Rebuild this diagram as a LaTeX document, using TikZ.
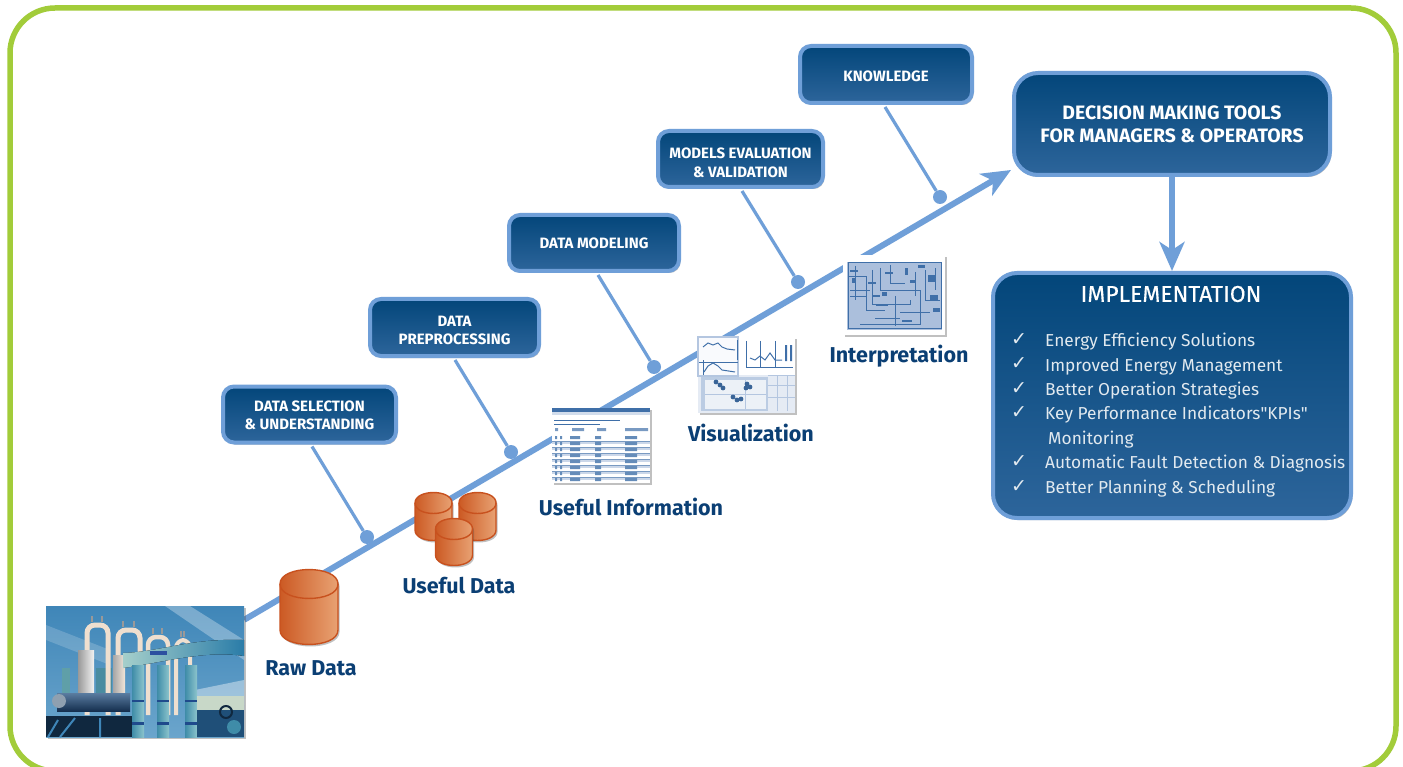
\documentclass[tikz,border=0pt]{standalone}
\usepackage{fontspec}
\setmainfont{Fira Sans}
\newfontfamily\chk{DejaVu Sans}
\newfontfamily\titlefont[FakeBold=0.35]{Fira Sans}
\newfontfamily\plainq{Fira Sans}
\usetikzlibrary{arrows.meta,shadows}
\definecolor{linkblue}{HTML}{6F9FD8}
\definecolor{boxtop}{HTML}{03467A}
\definecolor{boxbot}{HTML}{2D659B}
\definecolor{labelblue}{HTML}{0B3F74}
\definecolor{framegreen}{HTML}{A2CC3A}
\definecolor{cyldark}{HTML}{CC5A24}
\definecolor{cyllight}{HTML}{E8A273}
\definecolor{cylline}{HTML}{C8511E}
\definecolor{thumb}{HTML}{3F6FA8}
\definecolor{thumbbg}{HTML}{B4C6E0}
\definecolor{skyA}{HTML}{3F86B8}
\definecolor{skyB}{HTML}{6BA5CC}
\definecolor{tealA}{HTML}{5F9FA8}
\definecolor{tealB}{HTML}{4A8CA0}
\definecolor{tealC}{HTML}{A5CFCB}
\definecolor{pipeD}{HTML}{2A7CA8}
\definecolor{strapB}{HTML}{2C50A0}
\definecolor{colA}{HTML}{3F8CA8}
\definecolor{colB}{HTML}{8CC4CC}
\definecolor{strapC}{HTML}{1F4A8C}
\definecolor{eqA}{HTML}{5A7CA0}
\definecolor{eqB}{HTML}{15304F}
\definecolor{hubC}{HTML}{8FA0B0}
\definecolor{nightC}{HTML}{10283F}
\definecolor{paleC}{HTML}{C8D8C8}
\definecolor{deepC}{HTML}{1F4F78}
\tikzset{
  softshadow/.style={drop shadow={shadow xshift=1.5pt,shadow yshift=-2pt,opacity=.35,fill=black!70}},
  flowbox/.style={draw=linkblue,line width=4pt,rounded corners=11pt,top color=boxtop,bottom color=boxbot,
    softshadow,text=white,align=center,font=\bfseries\fontsize{15}{18.5}\selectfont,inner sep=0pt},
  bigbox/.style={flowbox,rounded corners=24pt},
  stem/.style={draw=linkblue,line width=3.2pt},
  dotnode/.style={circle,fill=linkblue,minimum size=14pt,inner sep=0pt},
  mainline/.style={draw=linkblue,line width=6pt},
  bigarrow/.style={mainline,-{Stealth[length=29pt,width=25pt,inset=8pt]}},
  caption/.style={text=labelblue,font=\bfseries\fontsize{21.5}{24}\selectfont,inner sep=0pt},
  listtext/.style={text=white!88!boxtop,font=\fontsize{17.3}{20}\selectfont,anchor=base west,inner sep=0pt},
  tick/.style={text=white!88!boxtop,font=\chk\fontsize{19}{20}\selectfont,anchor=base west,inner sep=0pt},
  cylfill/.style={left color=cyldark,right color=cyllight,draw=cylline,line width=1.4pt},
  thumbline/.style={draw=thumb,line width=.7pt}
}
\newcommand{\tx}[2]{\raisebox{-#1pt}[\height][\depth]{#2}}
\newcommand{\cylinder}[5]{% cx, top y, rx, ry, height
  \path[cylfill,softshadow] (#1-#3,#2) -- (#1-#3,#2+#5)
     .. controls (#1-#3,#2+#5+1.33*#4) and (#1+#3,#2+#5+1.33*#4) .. (#1+#3,#2+#5)
     -- (#1+#3,#2)
     .. controls (#1+#3,#2-1.33*#4) and (#1-#3,#2-1.33*#4) .. cycle;
  \draw[cylline,line width=1.4pt] (#1-#3,#2) .. controls (#1-#3,#2+1.33*#4) and (#1+#3,#2+1.33*#4) .. (#1+#3,#2);
}
\begin{document}
\begin{tikzpicture}[x=1pt,y=-1pt]
\useasboundingbox (0,0) rectangle (1403,767);
\clip (0,0) rectangle (1403,767);
\fill[white] (0,0) rectangle (1403,767);
\draw[framegreen,line width=5.5pt,rounded corners=45pt] (10,8) rectangle (1396,771);

% ---- named anchors of the main flow
\node[minimum width=198pt,minimum height=131pt,inner sep=0pt] (photo) at (145,671.5) {};
\node[bigbox,minimum width=316pt,minimum height=102pt,font=\bfseries\fontsize{19.4}{23}\selectfont] (decision) at (1172,124)
  {\tx{0}{DECISION MAKING TOOLS}\\\tx{0}{FOR MANAGERS \& OPERATORS}};

% ---- main line
\coordinate (linestart) at ([yshift=-14pt]photo.north east);
\coordinate (linetip) at ([xshift=-1pt,yshift=7pt]decision.south west);
\draw[bigarrow] (linestart) -- (linetip);

% ---- stem boxes
\node[flowbox,minimum width=173pt,minimum height=56pt] (ds) at (309.5,414.5) {\tx{1}{DATA SELECTION}\\\tx{1}{\& UNDERSTANDING}};
\node[flowbox,minimum width=169pt,minimum height=57pt] (dp) at (454.5,327.5) {\tx{3}{DATA}\\\tx{3}{PREPROCESSING}};
\node[flowbox,minimum width=170pt,minimum height=56pt] (dm) at (594,243) {\tx{0}{DATA MODELING}};
\node[flowbox,minimum width=165pt,minimum height=56pt] (me) at (740.5,159) {\tx{4}{MODELS EVALUATION}\\\tx{4}{\& VALIDATION}};
\node[flowbox,minimum width=172pt,minimum height=57pt] (kn) at (886,74.5) {\tx{2}{KNOWLEDGE}};

\node[dotnode] (d1) at (367,537) {};
\node[dotnode] (d2) at (511,452) {};
\node[dotnode] (d3) at (654,367) {};
\node[dotnode] (d4) at (798,282) {};
\node[dotnode] (d5) at (940,197) {};
\draw[stem] ([xshift=2.5pt,yshift=-2pt]ds.south) -- (d1);
\draw[stem] ([xshift=.5pt,yshift=-2pt]dp.south) -- (d2);
\draw[stem] ([xshift=4pt,yshift=-2pt]dm.south) -- (d3);
\draw[stem] ([xshift=1.5pt,yshift=-2pt]me.south) -- (d4);
\draw[stem] ([xshift=-1pt,yshift=-2pt]kn.south) -- (d5);

% ---- implementation
\node[bigbox,minimum width=358pt,minimum height=245pt] (impl) at (1172,395.5) {};
\draw[bigarrow] (decision.south) -- (impl.north);
\node[text=white,font=\titlefont\fontsize{23}{26}\selectfont,inner sep=0pt] (impltitle) at (1171,294) {IMPLEMENTATION};
\foreach \yy/\txt in {346/Energy Efficiency Solutions,371/Improved Energy Management,395/Better Operation Strategies,
  419/{Key Performance Indicators{\plainq\char34}KPIs{\plainq\char34}},468/Automatic Fault Detection \& Diagnosis,493/Better Planning \& Scheduling}{
  \node[tick] at (1011,\yy-1) {✓};
  \node[listtext] at (1045,\yy) {\txt};
}
\node[listtext] (mon) at (1048,444) {Monitoring};

% ---- photo (drawn plant scene)
\begin{scope}
\path[softshadow,fill=white] (46,606) rectangle (244,737);
\clip (46,606) rectangle (244,737);
\fill[top color=skyA,bottom color=skyB] (46,606) rectangle (244,737);
\fill[white,opacity=.3] (165,606) -- (190,606) -- (244,640) -- (244,660) -- cycle;
\fill[white,opacity=.18] (46,625) -- (110,650) -- (110,665) -- (46,640) -- cycle;
\fill[white,opacity=.4] (195,690) -- (244,680) -- (244,705) -- (195,710) -- cycle;
% back pipes
\fill[color=tealA] (62,700) rectangle (70,668);
\fill[color=tealB] (96,668) rectangle (112,705);
% silver U pipes
\foreach \xa/\xb/\ytop/\w in {87/108/625/5,118/140/630/5,148/168/637/4.5,176/190/640/4}{
  \draw[color=white!75!brown,line width=\w pt,rounded corners=8pt] (\xa,715) -- (\xa,\ytop) -- (\xb,\ytop) -- (\xb,715);
  \draw[color=gray!80,line width=1.1pt] (\xa+5,\ytop-9) -- (\xa+5,\ytop-3) (\xb-6,\ytop-9) -- (\xb-6,\ytop-3);
}
\fill[left color=gray!80,right color=white!90!gray] (78,650) rectangle (94,705);
\fill[left color=gray!70,right color=white!80!brown] (113,655) rectangle (125,705);
% teal horizontal pipe and columns
\fill[left color=tealC,right color=pipeD] (123,653) .. controls (160,652) and (190,638) .. (244,640) -- (244,656)
  .. controls (205,650) and (165,662) .. (123,668) -- cycle;
\fill[color=strapB] (150,651) rectangle (167,655);
\foreach \xc in {138,163,191}{
  \fill[left color=colA,right color=colB] (\xc-6,665) rectangle (\xc+6,737);
  \fill[color=strapC] (\xc-6,722) rectangle (\xc+6,725);
  \fill[color=strapC] (\xc-6,700) rectangle (\xc+6,702);
}
% dark equipment
\fill[top color=eqA,bottom color=eqB] (57,693) rectangle (130,711);
\fill[color=hubC] (59,701) circle (7pt);
\fill[color=nightC] (46,716) rectangle (132,737);
\draw[color=skyA,line width=2pt] (60,737) -- (75,718) (100,737) -- (100,718) (48,737) -- (58,720);
\fill[color=paleC] (197,696) rectangle (244,710);
\fill[color=deepC] (197,710) rectangle (244,737);
\draw[color=nightC,line width=2pt] (226,712) circle (6pt);
\fill[color=colA] (234,727) circle (7pt);
\end{scope}

% ---- cylinders
\cylinder{309}{584}{29}{14.5}{46}
\cylinder{433.5}{503}{18.5}{10.5}{27}
\cylinder{477.5}{503}{18.5}{10.5}{27}
\cylinder{454}{529}{18.5}{10.5}{26}
\node[caption] (rawlabel) at (311,668) {Raw Data};
\node[caption] (usefullabel) at (459,586) {Useful Data};

% ---- table thumbnail
\path[softshadow,fill=white] (552,408) rectangle (650,483);
\fill[color=thumb] (552,408) rectangle (650,412);
\fill[color=thumbbg!60] (552,412) rectangle (650,415);
\draw[thumbline,line width=.5pt] (554,420) -- (620,420) (554,424) -- (600,424);
\fill[color=thumb!70] (555,428) rectangle (558,431) (572,428) rectangle (584,431) (597,428) rectangle (606,431) (625,428) rectangle (648,431);
\foreach \yy in {441,447,453,459,465,471,477}{ \draw[thumbline,color=thumb!70] (552,\yy) -- (650,\yy); \fill[color=thumbbg!70] (552,\yy+1) rectangle (650,\yy+3); }
\foreach \yy in {436,442,448,454,460,466,472,478}{
  \fill[color=thumb!80] (555,\yy) rectangle (557,\yy+3) (560,\yy) rectangle (562,\yy+3) (570,\yy) rectangle (580,\yy+3) (595,\yy) rectangle (601,\yy+3) (625,\yy) rectangle (637,\yy+3);
}
\node[caption] (infolabel) at (631,507) {Useful Information};

% ---- visualization thumbnail
\path[softshadow,fill=white] (698,337) rectangle (795,413);
\fill[color=thumbbg!35] (698,375) rectangle (795,413);
\fill[color=thumbbg!90] (701,377) rectangle (768,411);
\fill[color=white!75!thumbbg] (705,380) rectangle (766,409);
\fill[color=white!92!thumbbg] (699,338) rectangle (738,375);
\draw[color=thumbbg,line width=1.5pt] (698,337) rectangle (738,376);
\draw[thumbline] (699,362) -- (738,362) (737,340) -- (737,360) (703,360) -- (703,375);
\draw[thumbline,line width=1pt] (703,347) -- (708,343) -- (713,345) -- (718,343) -- (722,347) -- (727,349) -- (735,350);
\draw[thumbline,line width=1pt] (704,372) -- (708,366) -- (713,363) -- (718,366) -- (722,370) -- (735,372);
\draw[thumbline,line width=.5pt] (746,341) -- (746,367) -- (793,367) (760,341) -- (760,367) (775,341) -- (775,367);
\draw[thumbline,line width=1pt] (750,358) -- (755,360) -- (760,356) -- (765,360) -- (770,353) -- (775,360) -- (782,360);
\fill[color=thumb] (785,345) rectangle (787,361) (790,345) rectangle (792,361);
\draw[thumbline,color=thumbbg] (768,375) -- (795,375) (768,385) -- (795,385) (768,397) -- (795,397) (777,375) -- (777,411) (787,375) -- (787,411);
\draw[thumbline,color=thumbbg] (705,394) -- (766,394) (745,380) -- (745,409);
\foreach \px/\py in {716/382,720/385,723/388,747/384,746/388,750/387,733/397,737/400,741/399}{ \fill[color=thumb!90!black] (\px,\py) circle (2.4pt); }
\node[caption] (vislabel) at (751,433) {Visualization};

% ---- interpretation thumbnail
\path[softshadow,fill=white] (843,255) rectangle (945,335);
\fill[color=thumbbg!92!thumb] (847,262) rectangle (942,330);
\draw[thumbline,line width=1pt] (848,263) rectangle (941,329);
\draw[thumbline] (848,276) -- (866,276) -- (866,310) -- (885,310) (872,270) -- (872,304) -- (910,304) -- (910,300)
  (850,290) -- (870,290) (880,268) -- (880,290) -- (920,290) -- (920,325) (890,265) -- (890,283) -- (905,283)
  (900,312) -- (930,312) (925,270) -- (925,300) -- (940,300) (875,318) -- (900,318) (915,272) -- (915,296)
  (855,266) -- (855,300) (895,296) -- (895,326) (860,324) -- (920,324) (935,268) -- (935,290) (850,296) -- (866,296);
\foreach \px/\py/\qx/\qy in {850/270/858/272,852/278/856/283,868/282/876/284,882/292/887/296,872/295/880/297,
  876/304/888/306,905/268/908/275,910/280/916/283,928/275/935/282,930/295/938/300,902/320/912/322,933/308/940/312,885/272/893/274,918/265/925/268}{
  \fill[color=thumb] (\px,\py) rectangle (\qx,\qy);
}
\node[caption] (intlabel) at (899,356) {Interpretation};
\end{tikzpicture}
\end{document}
